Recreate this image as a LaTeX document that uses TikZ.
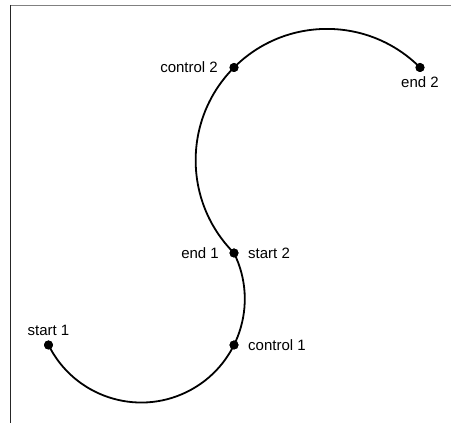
\documentclass[tikz,border=0pt]{standalone}
\usepackage{fontspec}
\setmainfont{Liberation Sans}
\begin{document}
\begin{tikzpicture}[x=1pt,y=1pt,
  dot/.style={circle,fill=black,inner sep=0pt,minimum size=9pt},
  lbl/.style={inner sep=0pt,font=\fontsize{15}{18}\selectfont},
  curve/.style={line width=1.8pt},
  frame/.style={line width=1.4pt}]
\useasboundingbox (0,0) rectangle (451,423);
% partial frame: top and left edges
\draw[frame,gray] (10,417.5) -- (451,417.5);
\draw[frame,black!85] (10.3,418.2) -- (10.3,0);

% curve points
\node[dot] (s1) at (48.5,78) {};
\node[dot] (c1) at (234,78) {};
\node[dot] (m)  at (234,170) {};
\node[dot] (c2) at (234,355.5) {};
\node[dot] (e2) at (420,355.5) {};

% two circular arcs joined at end 1 / start 2
\draw[curve] (s1.center) arc[start angle=206.38, end angle=386.38, radius=103.53pt];
\draw[curve] (m.center) arc[start angle=224.92, end angle=44.92, radius=131.35pt];

% redraw dots on top of the strokes
\foreach \p in {s1,c1,m,c2,e2} \fill (\p) circle (4.5pt);

% labels
\node[lbl,anchor=south] (ls1) at ([yshift=9pt]s1.center) {start 1};
\node[lbl,anchor=west]  (lc1) at ([xshift=14pt]c1.center) {control 1};
\node[lbl,anchor=east]  (le1) at ([xshift=-15pt]m.center) {end 1};
\node[lbl,anchor=west]  (ls2) at ([xshift=14pt]m.center) {start 2};
\node[lbl,anchor=east]  (lc2) at ([xshift=-16pt]c2.center) {control 2};
\node[lbl,anchor=north] (le2) at ([yshift=-9pt]e2.center) {end 2};
\end{tikzpicture}
\end{document}
